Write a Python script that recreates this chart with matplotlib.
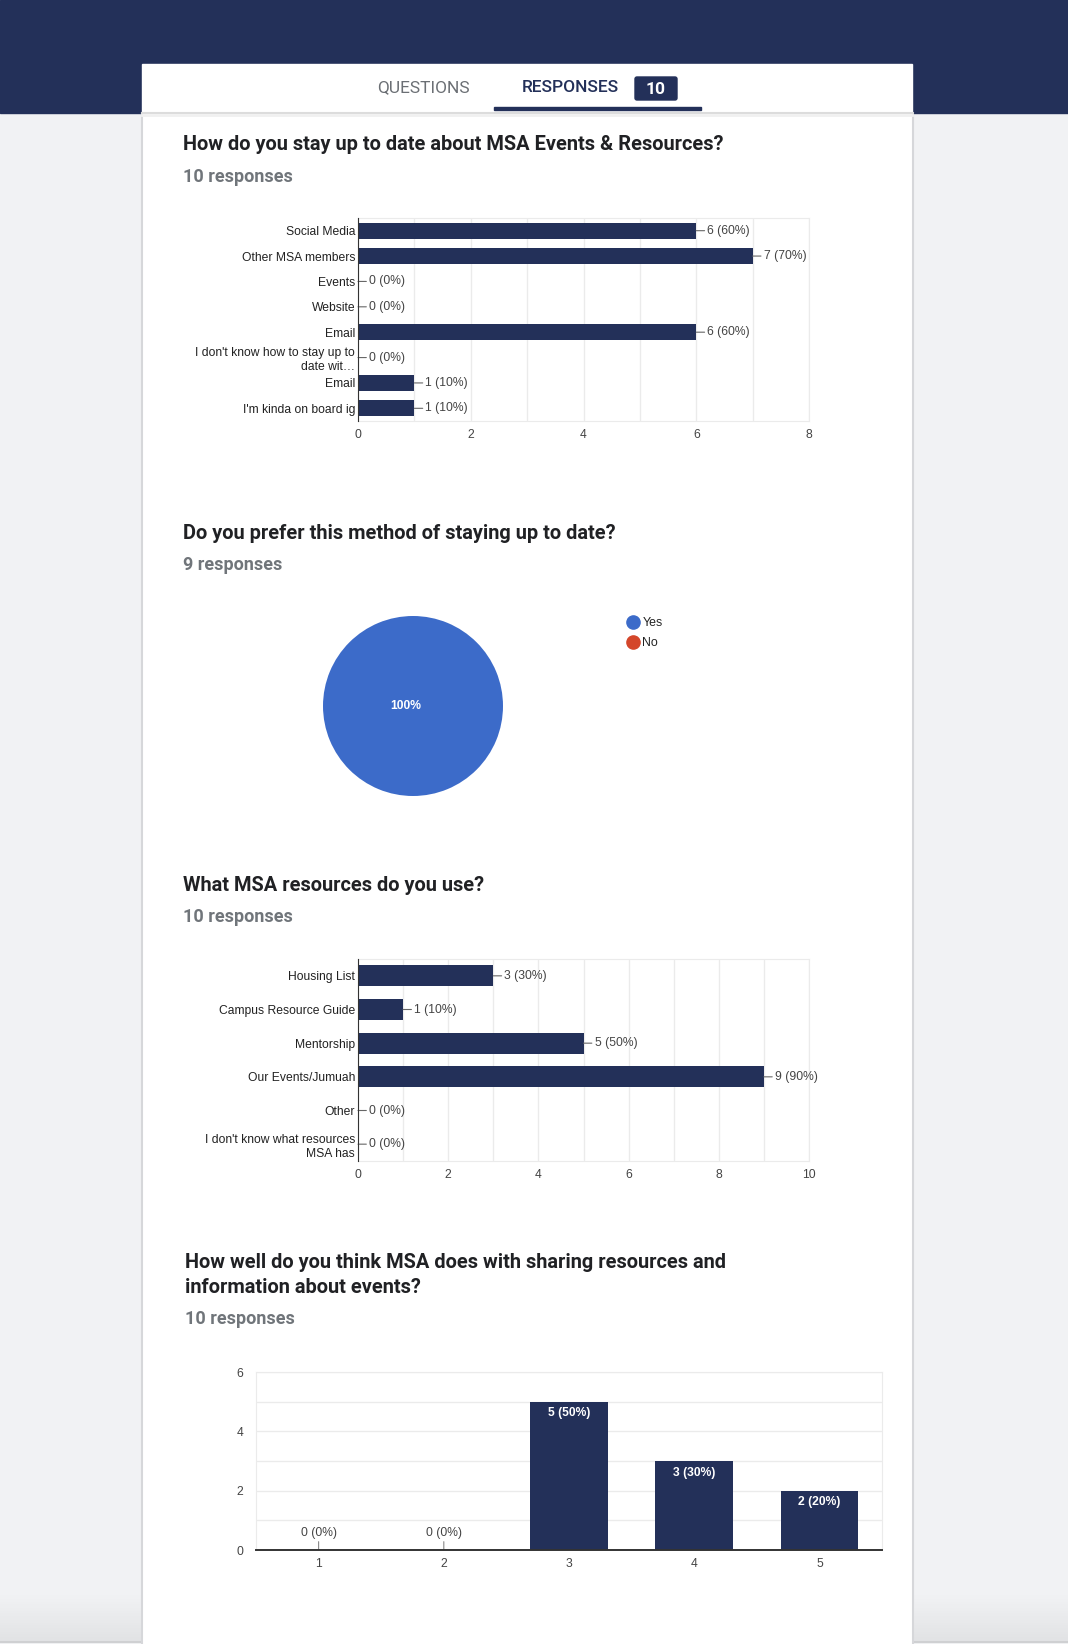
import numpy as np
import matplotlib
matplotlib.use('Agg')
import matplotlib.pyplot as plt
from matplotlib.patches import Rectangle, FancyBboxPatch
from matplotlib.lines import Line2D

# ---- data ----
q1_title = 'How do you stay up to date about MSA Events & Resources?'
q1_n = 10
q1_cats = ['Social Media', 'Other MSA members', 'Events', 'Website', 'Email',
           "I don't know how to stay up to\ndate wit\u2026", 'Email', "I'm kinda on board ig"]
q1_vals = [6, 7, 0, 0, 6, 0, 1, 1]

q2_title = 'Do you prefer this method of staying up to date?'
q2_n = 9
q2_labels = ['Yes', 'No']
q2_vals = [9, 0]

q3_title = 'What MSA resources do you use?'
q3_n = 10
q3_cats = ['Housing List', 'Campus Resource Guide', 'Mentorship', 'Our Events/Jumuah',
           'Other', "I don't know what resources\nMSA has"]
q3_vals = [3, 1, 5, 9, 0, 0]

q4_title = 'How well do you think MSA does with sharing resources and\ninformation about events?'
q4_n = 10
q4_scale = [1, 2, 3, 4, 5]
q4_vals = [0, 0, 5, 3, 2]

NAVY = '#233059'
PIE_COLORS = ['#3c6bc9', '#d4462a']
GRID = '#ebebeb'
W, H = 1068, 1644
CHART_FONT = 'Liberation Sans'
HEAD_FONT = 'Roboto'

fig = plt.figure(figsize=(W / 100, H / 100), dpi=100)


def px_axes(x0, y0, x1, y1, **kw):
    return fig.add_axes([x0 / W, 1 - y1 / H, (x1 - x0) / W, (y1 - y0) / H], **kw)


# page background, header band, card
bg = fig.add_axes([0, 0, 1, 1], zorder=-5)
bg.set_xlim(0, W)
bg.set_ylim(H, 0)
bg.axis('off')
bg.add_patch(Rectangle((0, 0), W, H, color='#f1f2f4'))
bg.add_patch(Rectangle((0, 0), W, 113, color=NAVY))
grad = np.linspace(0, 1, 50)[:, None] * np.ones((1, 2))
for x0, x1 in [(0, 142), (912, W)]:
    bg.imshow(grad, extent=(x0, x1, 1641, 1595), cmap=matplotlib.colors.LinearSegmentedColormap.from_list(
        'g', ['#f1f2f4', '#e2e3e5']), aspect='auto', zorder=1)
bg.plot([0, W], [1642, 1642], color='#cfd0d2', lw=1.5, zorder=2)
bg.add_patch(Rectangle((142, 64), 770, H - 64, color='white', zorder=3))
bg.plot([141.5, 141.5], [113, H], color='#d6d7da', lw=1.5, zorder=3)
bg.plot([912.5, 912.5], [113, H], color='#d6d7da', lw=1.5, zorder=3)
bg.plot([142, 912], [113.5, 113.5], color='#dcdcdc', lw=1.5, zorder=4)
bg.plot([142, 912], [115.5, 115.5], color='#f0f0f0', lw=2, zorder=4)

# tabs
bg.text(423, 88, 'QUESTIONS', fontsize=12.5, family=HEAD_FONT, color='#6b6f74',
        ha='center', va='center', zorder=5)
bg.text(570, 88, 'RESPONSES', fontsize=12.5, family=HEAD_FONT, color=NAVY,
        fontweight='medium', ha='center', va='center', zorder=5)
bg.add_patch(FancyBboxPatch((635, 77), 42, 23, boxstyle='round,pad=0,rounding_size=2',
                            color=NAVY, zorder=5))
bg.text(656, 89, str(q1_n), fontsize=12.5, family=HEAD_FONT, fontweight='bold',
        color='white', ha='center', va='center', zorder=6)
bg.add_patch(Rectangle((494, 107.5), 207, 3, color=NAVY, zorder=5))


def heading(x, y, title, n):
    lines = title.split('\n')
    for i, line in enumerate(lines):
        bg.text(x, y + i * 25, line, fontsize=14.4, family=HEAD_FONT, fontweight='bold',
                color='#202124', ha='left', va='center', zorder=6)
    bg.text(x, y + 32 + (len(lines) - 1) * 25, '%d responses' % n, fontsize=13,
            family=HEAD_FONT, fontweight='bold', color='#70757a', ha='left',
            va='center', zorder=6)


heading(183, 145, q1_title, q1_n)
heading(183, 533, q2_title, q2_n)
heading(183, 885, q3_title, q3_n)
heading(185, 1262, q4_title, q4_n)


def hbar(ax, cats, vals, n, xmax):
    y = np.arange(len(cats))
    ax.barh(y, vals, height=0.62, color=NAVY, zorder=3)
    ax.set_ylim(len(cats) - 0.5, -0.5)
    ax.set_xlim(0, xmax)
    ax.set_xticks(np.arange(0, xmax + 1, 2))
    ax.set_xticks(np.arange(1, xmax, 2), minor=True)
    ax.set_yticks(y)
    ax.set_yticklabels(cats, family=CHART_FONT, fontsize=8.7, color='#222222',
                       linespacing=1.25)
    for lab in ax.get_xticklabels():
        lab.set_family(CHART_FONT)
    ax.tick_params(axis='x', which='both', length=0, pad=6, labelsize=8.7, labelcolor='#444444')
    ax.tick_params(axis='y', length=0, pad=2)
    ax.grid(True, axis='x', which='both', color=GRID, lw=1, zorder=0)
    for s in ['top', 'right', 'bottom']:
        ax.spines[s].set_color(GRID)
    ax.spines['left'].set_color('#333333')
    ax.spines['left'].set_zorder(4)
    for yi, v in zip(y, vals):
        ax.annotate('%d (%d%%)' % (v, round(100 * v / n)), xy=(v, yi), xytext=(8, 0),
                    textcoords='offset points', ha='left', va='center',
                    family=CHART_FONT, fontsize=8.7, color='#444444',
                    arrowprops=dict(arrowstyle='-', color='#666666', lw=0.8,
                                    shrinkA=0, shrinkB=0))


ax1 = px_axes(358, 218, 809, 421)
hbar(ax1, q1_cats, q1_vals, q1_n, 8)

ax3 = px_axes(358, 959, 809, 1161)
hbar(ax3, q3_cats, q3_vals, q3_n, 10)

# pie
ax2 = px_axes(323, 616, 503, 796)
ax2.pie(q2_vals, colors=PIE_COLORS, startangle=90, counterclock=False, radius=1,
        wedgeprops=dict(linewidth=0))
ax2.set_xlim(-1, 1)
ax2.set_ylim(-1, 1)
ax2.set_aspect('equal')
tot = sum(q2_vals)
ax2.text(-0.08, 0, '%d%%' % round(100 * q2_vals[0] / tot), color='white', fontweight='bold',
         family=CHART_FONT, fontsize=8.7, ha='center', va='center')
handles = [Line2D([], [], marker='o', ls='', markersize=9.5, markerfacecolor=c,
                  markeredgecolor=c) for c in PIE_COLORS]
fig.legend(handles, q2_labels, loc='upper left', bbox_to_anchor=(619 / W, 1 - 611 / H),
           frameon=False, handletextpad=0.2, labelspacing=0.62, borderpad=0,
           prop=dict(family=CHART_FONT, size=8.9), labelcolor='#222222', handlelength=1.2)

# column chart
ax4 = px_axes(256, 1372, 882, 1550)
ax4.bar(q4_scale, q4_vals, width=0.62, color=NAVY, zorder=3)
ax4.set_xlim(0.5, len(q4_scale) + 0.5)
ax4.set_ylim(0, 6)
ax4.set_yticks([0, 2, 4, 6])
ax4.set_yticks([1, 3, 5], minor=True)
ax4.set_xticks(q4_scale)
ax4.set_xticklabels([str(s) for s in q4_scale], family=CHART_FONT)
ax4.set_yticklabels(['0', '2', '4', '6'], family=CHART_FONT)
ax4.tick_params(axis='both', which='both', length=0, labelsize=8.7, labelcolor='#444444')
ax4.tick_params(axis='x', pad=6)
ax4.tick_params(axis='y', pad=9)
ax4.grid(True, axis='y', which='both', color=GRID, lw=1, zorder=0)
for s in ['top', 'right', 'left']:
    ax4.spines[s].set_color(GRID)
ax4.spines['bottom'].set_color('#333333')
ax4.spines['bottom'].set_linewidth(1.4)
ax4.spines['bottom'].set_zorder(4)
for x, v in zip(q4_scale, q4_vals):
    lab = '%d (%d%%)' % (v, round(100 * v / q4_n))
    if v == 0:
        ax4.annotate(lab, xy=(x, 0), xytext=(0, 8), textcoords='offset points',
                     ha='center', va='bottom', family=CHART_FONT, fontsize=8.7,
                     color='#444444', arrowprops=dict(arrowstyle='-', color='#888888',
                                                      lw=0.8, shrinkA=0, shrinkB=0))
    else:
        ax4.annotate(lab, xy=(x, v), xytext=(0, -4), textcoords='offset points',
                     ha='center', va='top', family=CHART_FONT, fontsize=8.7,
                     color='white', fontweight='bold', zorder=5)

fig.savefig('out.png', dpi=100)
